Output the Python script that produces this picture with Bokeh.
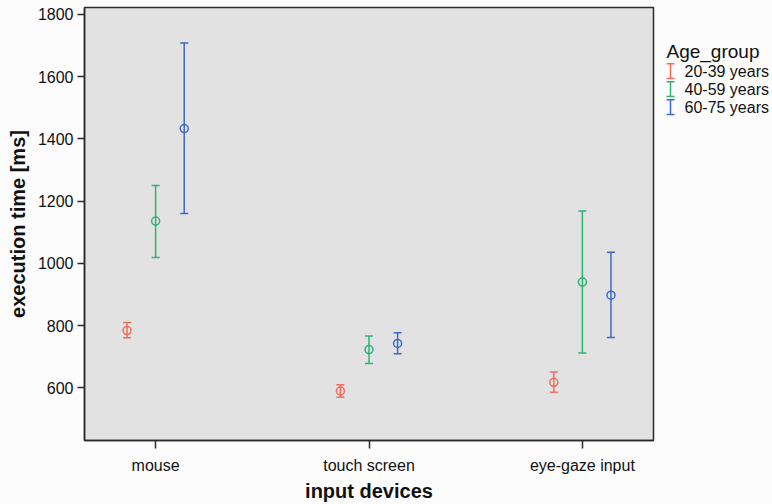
from bokeh.plotting import figure
from bokeh.models import ColumnDataSource, Whisker, TeeHead, FixedTicker, Range1d
from bokeh.layouts import row
from bokeh.core.properties import value
from bokeh.embed import file_html
from bokeh.resources import INLINE

devices = ["mouse", "touch screen", "eye-gaze input"]
groups = ["20-39 years", "40-59 years", "60-75 years"]
colors = ["#f26d5b", "#2db374", "#4068c8"]

# mean, lower, upper per group, ordered by device
means = {
    "20-39 years": [784, 590, 618],
    "40-59 years": [1136, 723, 940],
    "60-75 years": [1433, 743, 898],
}
lowers = {
    "20-39 years": [761, 570, 586],
    "40-59 years": [1019, 678, 712],
    "60-75 years": [1160, 710, 762],
}
uppers = {
    "20-39 years": [810, 610, 651],
    "40-59 years": [1250, 767, 1168],
    "60-75 years": [1708, 777, 1036],
}
y_ticks = [600, 800, 1000, 1200, 1400, 1600, 1800]

FONT = "Liberation Sans"
BG = "#fcfcfd"
DARK = "#2a2a2a"

p = figure(width=660, height=504, output_backend="svg", toolbar_location=None,
           x_range=Range1d(-1/3, 2 + 1/3), y_range=Range1d(431, 1822),
           min_border_left=84, min_border_right=7, min_border_top=7, min_border_bottom=61)
p.background_fill_color = "#e2e2e2"
p.border_fill_color = BG
p.outline_line_color = DARK
p.outline_line_width = 1.5
p.xgrid.visible = False
p.ygrid.visible = False

offsets = [-0.134, 0.0, 0.134]
for gi, g in enumerate(groups):
    xs = [i + offsets[gi] for i in range(len(devices))]
    src = ColumnDataSource(dict(x=xs, m=means[g], lo=lowers[g], hi=uppers[g]))
    w = Whisker(base="x", lower="lo", upper="hi", source=src, dimension="height",
                line_color=colors[gi], line_width=1.5,
                lower_head=TeeHead(size=8, line_color=colors[gi], line_width=1.5),
                upper_head=TeeHead(size=8, line_color=colors[gi], line_width=1.5))
    p.add_layout(w)
    p.scatter("x", "m", source=src, marker="circle", size=8, fill_color=None,
              line_color=colors[gi], line_width=1.5)

p.xaxis.ticker = FixedTicker(ticks=list(range(len(devices))))
p.xaxis.major_label_overrides = {i: d for i, d in enumerate(devices)}
p.yaxis.ticker = FixedTicker(ticks=y_ticks)
for ax in (p.xaxis, p.yaxis):
    ax.minor_tick_line_color = None
    ax.axis_line_color = DARK
    ax.axis_line_width = 1.5
    ax.major_tick_line_color = DARK
    ax.major_tick_line_width = 1.5
    ax.major_tick_in = 0
    ax.major_label_text_font = FONT
    ax.major_label_text_font_size = "16px"
    ax.major_label_text_color = "#111111"
    ax.axis_label_text_font = FONT
    ax.axis_label_text_font_style = "bold"
    ax.axis_label_text_font_size = "20px"
    ax.axis_label_text_color = "#111111"
p.xaxis.major_tick_out = 8
p.yaxis.major_tick_out = 7
p.xaxis.major_label_standoff = 8
p.yaxis.major_label_standoff = 4
p.xaxis.axis_label = "input devices"
p.yaxis.axis_label = "execution time [ms]"
p.xaxis.axis_label_standoff = 3
p.yaxis.axis_label_standoff = 6

# legend panel
lg = figure(width=112, height=504, output_backend="svg", toolbar_location=None,
            x_range=Range1d(0, 112), y_range=Range1d(504, 0),
            min_border=0)
lg.axis.visible = False
lg.grid.visible = False
lg.outline_line_color = None
lg.background_fill_color = BG
lg.border_fill_color = BG
lg.text(x=[6], y=[51], text=["Age_group"], text_font=value(FONT), text_font_size="19px",
        text_baseline="middle", text_color="#111111")
ys = [74 + 21 * i for i in range(len(groups))]
lx = [10] * len(groups)
lg.segment(x0=lx, y0=[y - 8.5 for y in ys], x1=lx, y1=[y + 8.5 for y in ys],
           line_color=colors, line_width=1.5)
lg.segment(x0=[x - 4 for x in lx], y0=[y - 8.5 for y in ys], x1=[x + 4 for x in lx],
           y1=[y - 8.5 for y in ys], line_color=colors, line_width=1.5)
lg.segment(x0=[x - 4 for x in lx], y0=[y + 8.5 for y in ys], x1=[x + 4 for x in lx],
           y1=[y + 8.5 for y in ys], line_color=colors, line_width=1.5)
lg.text(x=[24] * len(groups), y=ys, text=groups, text_font=value(FONT),
        text_font_size="16px", text_baseline="middle", text_color="#111111")

layout = row(p, lg, spacing=0)
layout.styles = {"background-color": BG}
open("out.html", "w").write(file_html(layout, INLINE))
